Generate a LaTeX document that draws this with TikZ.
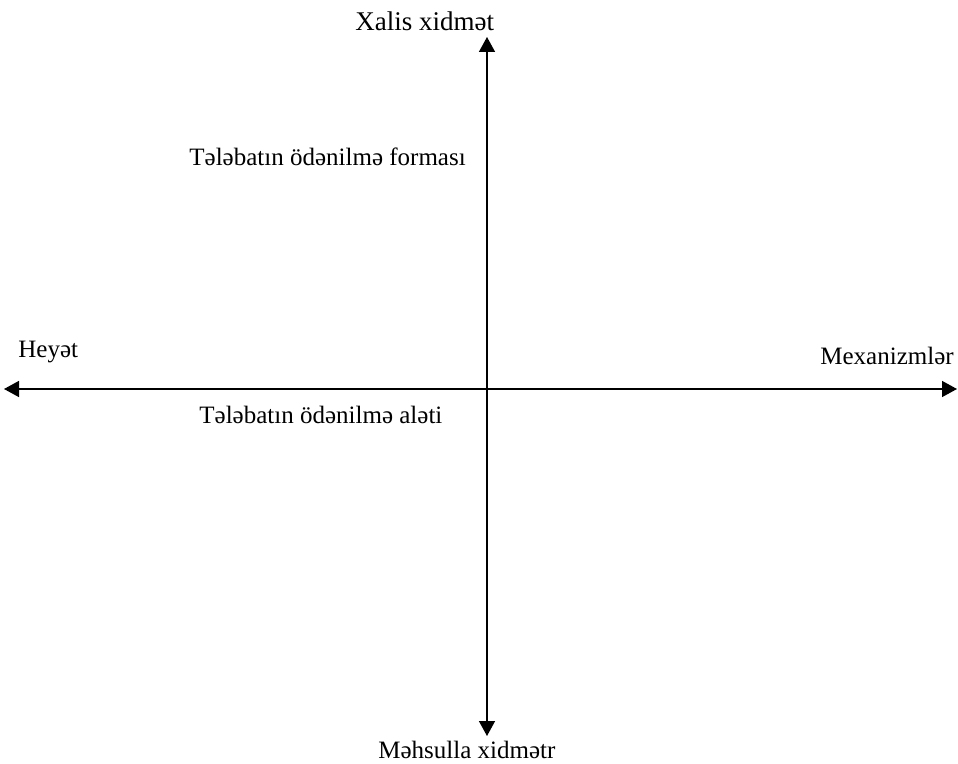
\documentclass[tikz,border=0pt]{standalone}
\usepackage{fontspec}
\setmainfont{Liberation Serif}
\usetikzlibrary{arrows.meta}
\begin{document}
\begin{tikzpicture}[x=0.5pt,y=-0.5pt,
  axis/.style={line width=0.75pt,{Triangle[length=7.5pt,width=8pt]}-{Triangle[length=7.5pt,width=8pt]}},
  lbl/.style={anchor=base west,inner sep=0pt,font=\fontsize{12.5}{15}\selectfont}]
  \useasboundingbox (0,0) rectangle (958,764);
  % axis end points
  \coordinate (top) at (487,37);
  \coordinate (bottom) at (487,736);
  \coordinate (left) at (4,389);
  \coordinate (right) at (957,389);
  % axes
  \draw[axis] (bottom) -- (top);
  \draw[axis] (left) -- (right);
  % labels
  \node[lbl,font=\fontsize{13.5}{16}\selectfont] (xalis) at (355,31) {Xalis xidmət};
  \node[lbl] (forma) at (189,166) {Tələbatın ödənilmə forması};
  \node[lbl] (heyet) at (18,358) {Heyət};
  \node[lbl] (mexan) at (820,365) {Mexanizmlər};
  \node[lbl] (aleti) at (199,423) {Tələbatın ödənilmə aləti};
  \node[lbl] (mehsul) at (378,758) {Məhsulla xidmətr};
\end{tikzpicture}
\end{document}
